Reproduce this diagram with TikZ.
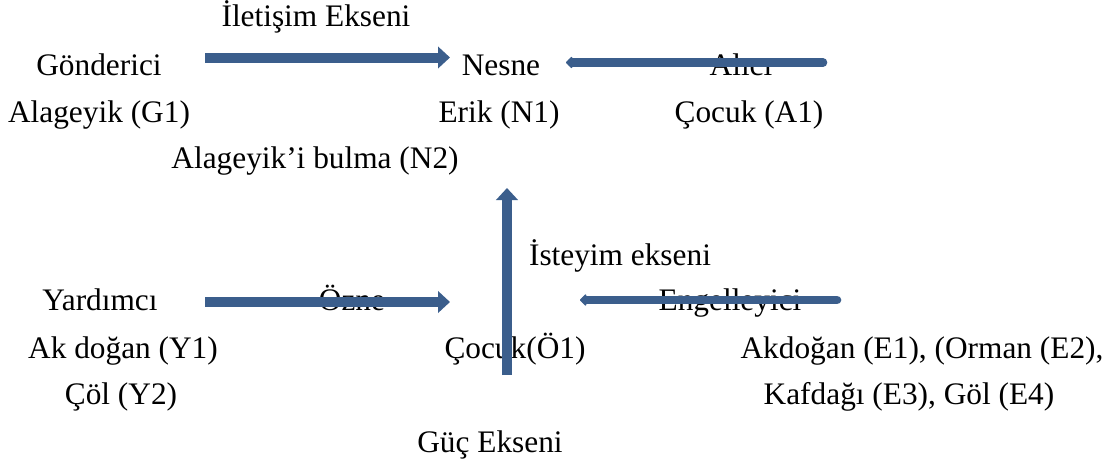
\documentclass[tikz,border=0pt]{standalone}
\usepackage{fontspec}
\setmainfont{Liberation Serif}
\usepackage{tikz}
\usetikzlibrary{arrows.meta}
\definecolor{axisblue}{RGB}{59,94,140}

\begin{document}
\begin{tikzpicture}[
  x=0.75pt, y=-0.75pt,
  every node/.style={inner sep=0pt, anchor=base, font=\fontsize{23.5}{28}\selectfont},
  bigaxis/.style={draw=axisblue, line width=7.5pt, -{Triangle[length=9pt,width=16pt]}},
  smallaxis/.style={draw=axisblue, line width=6.5pt, line cap=round, -{Triangle[round,length=5pt,width=10pt]}}
]
\useasboundingbox (0,0) rectangle (1110,465);
% actants
\node (iletisim) at (316,26) {İletişim Ekseni};
\node (gonderici) at (99,75) {Gönderici};
\node (nesne) at (501,75) {Nesne};
\node (alici) at (741,75) {Alıcı};
\node (g1) at (99,122) {Alageyik (G1)};
\node (n1) at (499,122) {Erik (N1)};
\node (a1) at (749,122) {Çocuk (A1)};
\node (n2) at (315,168) {Alageyik’i bulma (N2)};
\node (isteyim) at (620,265) {İsteyim ekseni};
\node (yardimci) at (100,310) {Yardımcı};
\node (ozne) at (352,310) {Özne};
\node (engel) at (730,310) {Engelleyici};
\node (y1) at (123,358) {Ak doğan (Y1)};
\node (o1) at (515,358) {Çocuk(Ö1)};
\node (e1) at (922,358) {Akdoğan (E1), (Orman (E2),};
\node (y2) at (121,404) {Çöl (Y2)};
\node (e3) at (909,404) {Kafdağı (E3), Göl (E4)};
\node (guc) at (490,452) {Güç Ekseni};
% arrow ends
\coordinate (gond-s) at (205,57.5);
\coordinate (gond-t) at (450,57.5);
\coordinate (alici-s) at (823,62.5);
\coordinate (alici-t) at (566,62.5);
\coordinate (yard-s) at (205,302);
\coordinate (yard-t) at (450,302);
\coordinate (engel-s) at (837,300);
\coordinate (engel-t) at (580,300);
\coordinate (ozne-s) at (507,375);
\coordinate (ozne-t) at (507,188);
% arrows
\draw[bigaxis] (gond-s) -- (gond-t);
\draw[smallaxis] (alici-s) -- (alici-t);
\draw[bigaxis] (yard-s) -- (yard-t);
\draw[smallaxis] (engel-s) -- (engel-t);
\draw[bigaxis] (ozne-s) -- (ozne-t);
\end{tikzpicture}
\end{document}
